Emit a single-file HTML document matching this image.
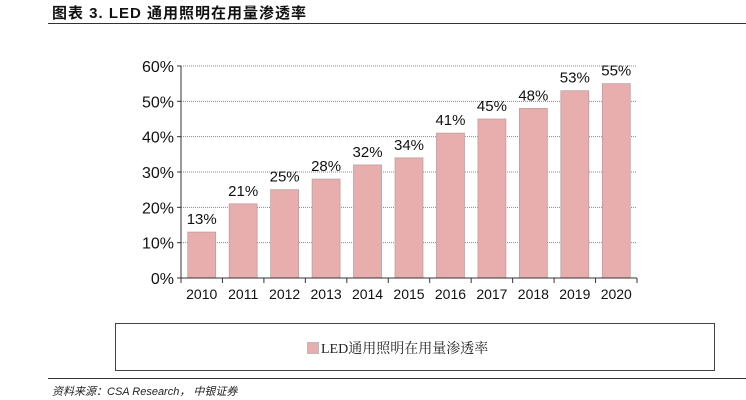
<!DOCTYPE html>
<html><head><meta charset="utf-8"><style>
body{margin:0;width:746px;height:400px;background:#fff;overflow:hidden;font-family:"Liberation Sans","Noto Sans CJK SC",sans-serif}
</style></head><body>
<div style="position:absolute;left:52px;top:2px;font-size:15px;font-weight:bold;color:#111;letter-spacing:1px">图表 3. LED 通用照明在用量渗透率</div>
<div style="position:absolute;left:48px;top:23px;width:698px;height:1px;background:#333"></div>
<svg id="chart" width="746" height="400" style="position:absolute;left:0;top:0"></svg>
<div style="position:absolute;left:115px;top:323px;width:598px;height:46px;border:1px solid #444"></div>
<div style="position:absolute;left:307px;top:338px;font-size:14px;font-family:'Liberation Serif','Noto Serif CJK SC',serif;color:#222"><span style="display:inline-block;width:10px;height:10px;background:#e8adad;border:1px solid #bbb;margin-right:2px;vertical-align:-1px"></span>LED通用照明在用量渗透率</div>
<div style="position:absolute;left:48px;top:378px;width:698px;height:1px;background:#333"></div>
<div style="position:absolute;left:52px;top:383px;font-size:11px;font-style:italic;color:#222">资料来源：CSA Research， 中银证券</div>
<script>
const categories=["2010","2011","2012","2013","2014","2015","2016","2017","2018","2019","2020"];
const values=[13,21,25,28,32,34,41,45,48,53,55];
const yTicks=[0,10,20,30,40,50,60];
const svg=document.getElementById('chart');
const NS='http://www.w3.org/2000/svg';
const x0=181,x1=637,yTop=66,yBot=278,yMax=60;
const band=(x1-x0)/categories.length;
const y=v=>yBot-(v/yMax)*(yBot-yTop);
const xc=i=>x0+band*(i+0.5);
function mk(t,a){const e=document.createElementNS(NS,t);for(const k in a)e.setAttribute(k,a[k]);svg.appendChild(e);return e;}
yTicks.forEach(t=>{
 if(t>0){const g=mk('line',{x1:x0,x2:x1,y1:y(t),y2:y(t),stroke:'#888','stroke-dasharray':'1,1'});
 
 }
 const tk=mk('line',{x1:x0-4,x2:x0,y1:y(t),y2:y(t),stroke:'#333'});
 
 
 const l=mk('text',{x:x0-7,y:y(t)+6,'text-anchor':'end','font-size':16,fill:'#111'});
 l.textContent=t+'%';
 
 
});
values.forEach((v,i)=>{
 const w=28;
 const r=mk('rect',{x:xc(i)-w/2,y:y(v),width:w,height:yBot-y(v),fill:'#e8adad',stroke:'#b89a9a','stroke-width':0.7});
 
 
 const t=mk('text',{x:xc(i),y:y(v)-8,'text-anchor':'middle','font-size':15,fill:'#111'});
 t.textContent=v+'%';
 
 
 const c=mk('text',{x:xc(i),y:yBot+21,'text-anchor':'middle','font-size':14,fill:'#111'});
 c.textContent=categories[i];
 
 
});
for(let i=0;i<=categories.length;i++){
 const tk=mk('line',{x1:x0+band*i,x2:x0+band*i,y1:yBot,y2:yBot+5,stroke:'#333'});
 
 
}
const ya=mk('line',{x1:x0,x2:x0,y1:yTop,y2:yBot,stroke:'#333'});


const xa=mk('line',{x1:x0,x2:x1,y1:yBot,y2:yBot,stroke:'#333'});


</script>
</body></html>
